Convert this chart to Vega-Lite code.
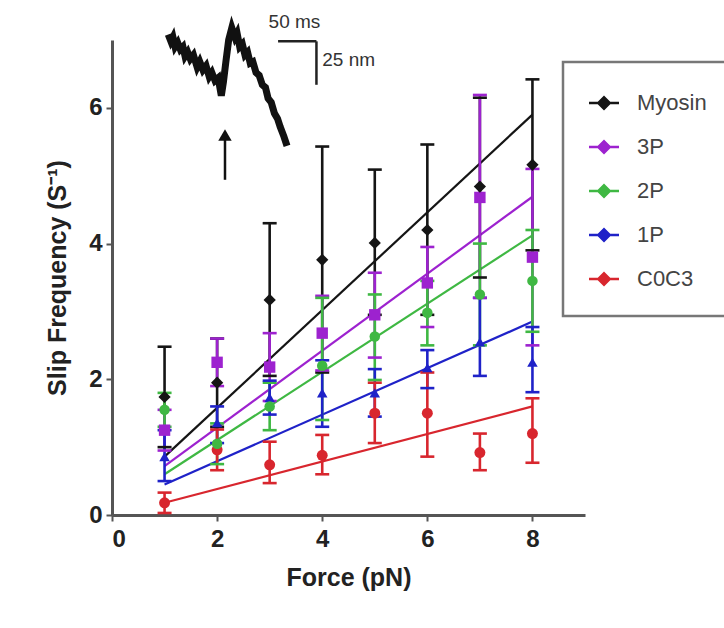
{
  "$schema": "https://vega.github.io/schema/vega-lite/v6.json",
  "width": 473,
  "height": 475,
  "autosize": {"type": "none"},
  "padding": {"left": 112, "top": 40, "right": 139, "bottom": 113},
  "background": "white",
  "config": {
    "view": {"stroke": null},
    "font": "Liberation Sans",
    "axis": {"grid": false, "domainColor": "#555", "domainWidth": 3, "tickColor": "#555", "tickWidth": 2, "tickSize": 6, "labelFont": "Liberation Sans", "labelFontWeight": "bold", "labelFontSize": 24, "labelColor": "#222", "titleFont": "Liberation Sans", "titleFontWeight": "bold", "titleFontSize": 25, "titleColor": "#222"},
    "legend": {"strokeColor": "#777", "strokeWidth": 2.5}
  },
  "datasets": {
    "pts": [
      {"s": "Myosin", "F": 1, "v": 1.74, "lo": 1.0, "hi": 2.48},
      {"s": "Myosin", "F": 2, "v": 1.95, "lo": 1.3, "hi": 2.6},
      {"s": "Myosin", "F": 3, "v": 3.17, "lo": 2.05, "hi": 4.3},
      {"s": "Myosin", "F": 4, "v": 3.76, "lo": 2.1, "hi": 5.43},
      {"s": "Myosin", "F": 5, "v": 4.01, "lo": 2.95, "hi": 5.09},
      {"s": "Myosin", "F": 6, "v": 4.2, "lo": 2.95, "hi": 5.46},
      {"s": "Myosin", "F": 7, "v": 4.84, "lo": 3.5, "hi": 6.15},
      {"s": "Myosin", "F": 8, "v": 5.16, "lo": 3.9, "hi": 6.42},
      {"s": "3P", "F": 1, "v": 1.25, "lo": 0.95, "hi": 1.55},
      {"s": "3P", "F": 2, "v": 2.25, "lo": 1.9, "hi": 2.6},
      {"s": "3P", "F": 3, "v": 2.18, "lo": 1.68, "hi": 2.68},
      {"s": "3P", "F": 4, "v": 2.68, "lo": 2.13, "hi": 3.23},
      {"s": "3P", "F": 5, "v": 2.95, "lo": 2.32, "hi": 3.57},
      {"s": "3P", "F": 6, "v": 3.42, "lo": 2.77, "hi": 3.95},
      {"s": "3P", "F": 7, "v": 4.68, "lo": 3.2, "hi": 6.19},
      {"s": "3P", "F": 8, "v": 3.8, "lo": 2.5, "hi": 5.1},
      {"s": "2P", "F": 1, "v": 1.55, "lo": 1.3, "hi": 1.8},
      {"s": "2P", "F": 2, "v": 1.05, "lo": 0.75, "hi": 1.35},
      {"s": "2P", "F": 3, "v": 1.6, "lo": 1.25, "hi": 1.95},
      {"s": "2P", "F": 4, "v": 2.2, "lo": 1.4, "hi": 3.2},
      {"s": "2P", "F": 5, "v": 2.63, "lo": 1.99, "hi": 3.25},
      {"s": "2P", "F": 6, "v": 2.98, "lo": 2.5, "hi": 3.45},
      {"s": "2P", "F": 7, "v": 3.25, "lo": 2.5, "hi": 4.0},
      {"s": "2P", "F": 8, "v": 3.45, "lo": 2.7, "hi": 4.2},
      {"s": "1P", "F": 1, "v": 0.86, "lo": 0.5, "hi": 1.25},
      {"s": "1P", "F": 2, "v": 1.36, "lo": 1.06, "hi": 1.6},
      {"s": "1P", "F": 3, "v": 1.73, "lo": 1.48, "hi": 1.98},
      {"s": "1P", "F": 4, "v": 1.8, "lo": 1.3, "hi": 2.28},
      {"s": "1P", "F": 5, "v": 1.8, "lo": 1.45, "hi": 2.15},
      {"s": "1P", "F": 6, "v": 2.17, "lo": 1.87, "hi": 2.43},
      {"s": "1P", "F": 7, "v": 2.55, "lo": 2.05, "hi": 3.2},
      {"s": "1P", "F": 8, "v": 2.25, "lo": 1.81, "hi": 2.77},
      {"s": "C0C3", "F": 1, "v": 0.18, "lo": 0.03, "hi": 0.33},
      {"s": "C0C3", "F": 2, "v": 0.96, "lo": 0.66, "hi": 1.26},
      {"s": "C0C3", "F": 3, "v": 0.74, "lo": 0.47, "hi": 1.08},
      {"s": "C0C3", "F": 4, "v": 0.88, "lo": 0.6, "hi": 1.18},
      {"s": "C0C3", "F": 5, "v": 1.5, "lo": 1.06, "hi": 1.95},
      {"s": "C0C3", "F": 6, "v": 1.5, "lo": 0.86, "hi": 2.1},
      {"s": "C0C3", "F": 7, "v": 0.92, "lo": 0.66, "hi": 1.2},
      {"s": "C0C3", "F": 8, "v": 1.2, "lo": 0.77, "hi": 1.72}
    ],
    "fit": [
      {"s": "Myosin", "F": 1, "v": 0.86},
      {"s": "Myosin", "F": 8, "v": 5.9},
      {"s": "3P", "F": 1, "v": 0.72},
      {"s": "3P", "F": 8, "v": 4.69},
      {"s": "2P", "F": 1, "v": 0.6},
      {"s": "2P", "F": 8, "v": 4.12},
      {"s": "1P", "F": 1, "v": 0.45},
      {"s": "1P", "F": 8, "v": 2.85},
      {"s": "C0C3", "F": 1, "v": 0.18},
      {"s": "C0C3", "F": 8, "v": 1.6}
    ],
    "trace": [
      {"F": 1.07, "v": 7.08}, {"F": 1.12, "v": 6.98}, {"F": 1.16, "v": 7.04}, {"F": 1.2, "v": 6.9},
      {"F": 1.25, "v": 6.96}, {"F": 1.3, "v": 6.86}, {"F": 1.35, "v": 6.9}, {"F": 1.39, "v": 6.76},
      {"F": 1.44, "v": 6.82}, {"F": 1.49, "v": 6.72}, {"F": 1.55, "v": 6.78}, {"F": 1.62, "v": 6.6},
      {"F": 1.67, "v": 6.68}, {"F": 1.73, "v": 6.56}, {"F": 1.79, "v": 6.62}, {"F": 1.85, "v": 6.46},
      {"F": 1.9, "v": 6.52}, {"F": 1.96, "v": 6.4}, {"F": 2.02, "v": 6.44}, {"F": 2.08, "v": 6.18},
      {"F": 2.12, "v": 6.38}, {"F": 2.17, "v": 6.7}, {"F": 2.22, "v": 7.0}, {"F": 2.28, "v": 7.18},
      {"F": 2.34, "v": 7.04}, {"F": 2.38, "v": 7.1}, {"F": 2.43, "v": 6.9}, {"F": 2.48, "v": 6.94},
      {"F": 2.53, "v": 6.78}, {"F": 2.58, "v": 6.82}, {"F": 2.63, "v": 6.66}, {"F": 2.68, "v": 6.68},
      {"F": 2.74, "v": 6.52}, {"F": 2.8, "v": 6.48}, {"F": 2.86, "v": 6.34}, {"F": 2.92, "v": 6.3},
      {"F": 2.97, "v": 6.14}, {"F": 3.03, "v": 6.08}, {"F": 3.09, "v": 5.92}, {"F": 3.15, "v": 5.84},
      {"F": 3.2, "v": 5.72}, {"F": 3.27, "v": 5.58}, {"F": 3.33, "v": 5.44}
    ],
    "bars": [
      {"F": 3.16, "v": 6.98, "F2": 3.89, "v2": 6.98},
      {"F": 3.89, "v": 6.98, "F2": 3.89, "v2": 6.34}
    ],
    "labels": [
      {"F": 2.98, "v": 7.27, "t": "50 ms"},
      {"F": 4.0, "v": 6.7, "t": "25 nm"}
    ],
    "arrow": [
      {"F": 2.15, "v": 4.94, "v2": 5.6}
    ]
  },
  "layer": [
    {
      "data": {"name": "fit"},
      "mark": {"type": "line", "strokeWidth": 2.2},
      "encoding": {
        "x": {"field": "F", "type": "quantitative", "scale": {"domain": [0, 9], "nice": false}, "axis": {"values": [0, 2, 4, 6, 8], "format": "d", "title": "Force (pN)", "titlePadding": 14, "labelPadding": 6}},
        "y": {"field": "v", "type": "quantitative", "scale": {"domain": [0, 7], "nice": false}, "axis": {"values": [0, 2, 4, 6], "format": "d", "title": "Slip Frequency (S⁻¹)", "titlePadding": 18, "labelPadding": 4}},
        "color": {"field": "s", "type": "nominal", "scale": {"domain": ["Myosin", "3P", "2P", "1P", "C0C3"], "range": ["#151515", "#9d22cf", "#3fb843", "#1f22c8", "#d8262e"]},
          "legend": {"orient": "none", "legendX": 451, "legendY": 22, "title": null, "padding": 26, "fillColor": "white", "labelFontSize": 22, "labelColor": "#444", "labelFont": "Liberation Sans", "symbolType": "M-1,-0.08L1,-0.08L1,0.08L-1,0.08Z M0,-0.5L0.5,0L0,0.5L-0.5,0Z", "symbolSize": 900, "symbolStrokeWidth": 0, "labelOffset": 18, "rowPadding": 18, "symbolOpacity": 1}},
        "detail": {"field": "s"}
      }
    },
    {
      "data": {"name": "pts"},
      "mark": {"type": "rule", "strokeWidth": 2.6},
      "encoding": {
        "x": {"field": "F", "type": "quantitative"},
        "y": {"field": "lo", "type": "quantitative"},
        "y2": {"field": "hi"},
        "color": {"field": "s", "type": "nominal"}
      }
    },
    {
      "data": {"name": "pts"},
      "mark": {"type": "point", "shape": "stroke", "size": 196, "strokeWidth": 2.6, "filled": false, "opacity": 1},
      "encoding": {
        "x": {"field": "F", "type": "quantitative"},
        "y": {"field": "hi", "type": "quantitative"},
        "color": {"field": "s", "type": "nominal"}
      }
    },
    {
      "data": {"name": "pts"},
      "mark": {"type": "point", "shape": "stroke", "size": 196, "strokeWidth": 2.6, "filled": false, "opacity": 1},
      "encoding": {
        "x": {"field": "F", "type": "quantitative"},
        "y": {"field": "lo", "type": "quantitative"},
        "color": {"field": "s", "type": "nominal"}
      }
    },
    {
      "data": {"name": "pts"},
      "transform": [{"filter": "datum.s === 'C0C3'"}],
      "mark": {"type": "point", "filled": true, "size": 120, "opacity": 1, "shape": "circle"},
      "encoding": {
        "x": {"field": "F", "type": "quantitative"},
        "y": {"field": "v", "type": "quantitative"},
        "color": {"field": "s", "type": "nominal"}
      }
    },
    {
      "data": {"name": "pts"},
      "transform": [{"filter": "datum.s === '1P'"}],
      "mark": {"type": "point", "filled": true, "size": 110, "opacity": 1, "shape": "triangle-up"},
      "encoding": {
        "x": {"field": "F", "type": "quantitative"},
        "y": {"field": "v", "type": "quantitative"},
        "color": {"field": "s", "type": "nominal"}
      }
    },
    {
      "data": {"name": "pts"},
      "transform": [{"filter": "datum.s === '2P'"}],
      "mark": {"type": "point", "filled": true, "size": 110, "opacity": 1, "shape": "circle"},
      "encoding": {
        "x": {"field": "F", "type": "quantitative"},
        "y": {"field": "v", "type": "quantitative"},
        "color": {"field": "s", "type": "nominal"}
      }
    },
    {
      "data": {"name": "pts"},
      "transform": [{"filter": "datum.s === '3P'"}],
      "mark": {"type": "point", "filled": true, "size": 130, "opacity": 1, "shape": "square"},
      "encoding": {
        "x": {"field": "F", "type": "quantitative"},
        "y": {"field": "v", "type": "quantitative"},
        "color": {"field": "s", "type": "nominal"}
      }
    },
    {
      "data": {"name": "pts"},
      "transform": [{"filter": "datum.s === 'Myosin'"}],
      "mark": {"type": "point", "filled": true, "size": 150, "opacity": 1, "shape": "diamond"},
      "encoding": {
        "x": {"field": "F", "type": "quantitative"},
        "y": {"field": "v", "type": "quantitative"},
        "color": {"field": "s", "type": "nominal"}
      }
    },
    {
      "data": {"name": "trace"},
      "mark": {"type": "line", "color": "#111", "strokeWidth": 7, "clip": false, "strokeJoin": "miter"},
      "encoding": {
        "x": {"field": "F", "type": "quantitative"},
        "y": {"field": "v", "type": "quantitative"}
      }
    },
    {
      "data": {"name": "arrow"},
      "mark": {"type": "rule", "color": "#111", "strokeWidth": 2.5},
      "encoding": {
        "x": {"field": "F", "type": "quantitative"},
        "y": {"field": "v", "type": "quantitative"},
        "y2": {"field": "v2"}
      }
    },
    {
      "data": {"name": "arrow"},
      "mark": {"type": "point", "shape": "triangle-up", "filled": true, "color": "#111", "size": 180, "opacity": 1},
      "encoding": {
        "x": {"field": "F", "type": "quantitative"},
        "y": {"field": "v2", "type": "quantitative"}
      }
    },
    {
      "data": {"name": "bars"},
      "mark": {"type": "rule", "color": "#222", "strokeWidth": 2.5, "clip": false},
      "encoding": {
        "x": {"field": "F", "type": "quantitative"},
        "x2": {"field": "F2"},
        "y": {"field": "v", "type": "quantitative"},
        "y2": {"field": "v2"}
      }
    },
    {
      "data": {"name": "labels"},
      "mark": {"type": "text", "fontSize": 19, "color": "#333", "align": "left", "baseline": "middle"},
      "encoding": {
        "x": {"field": "F", "type": "quantitative"},
        "y": {"field": "v", "type": "quantitative"},
        "text": {"field": "t"}
      }
    }
  ]
}
